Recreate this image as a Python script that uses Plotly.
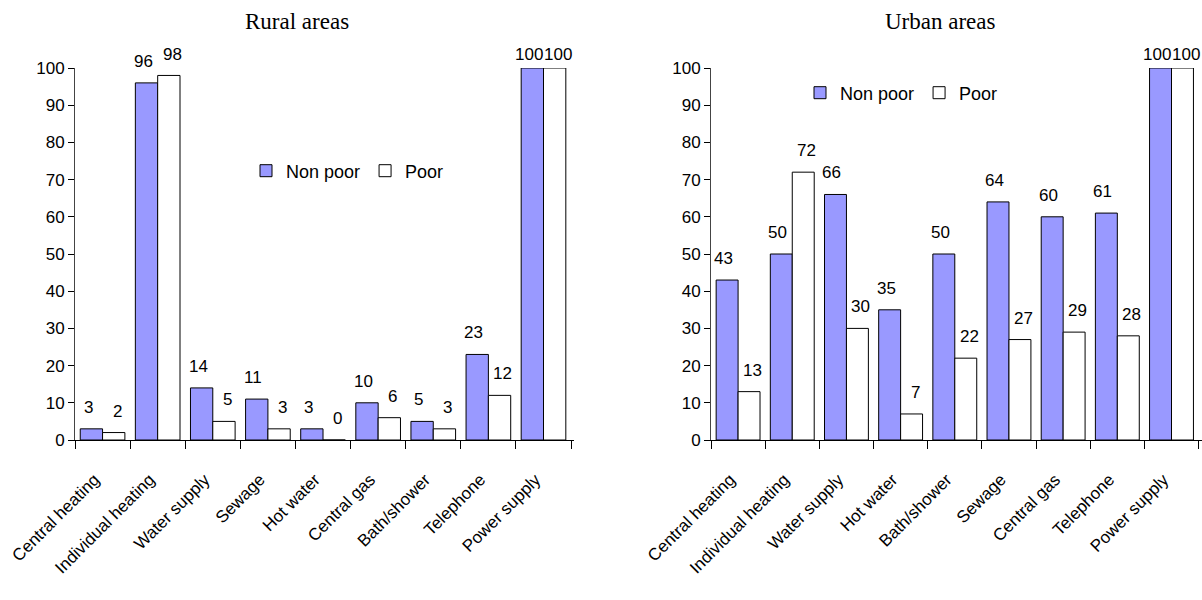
import plotly.graph_objects as go

# Rural areas: share of households with access to each amenity (%)
rural_categories = ["Central heating", "Individual heating", "Water supply", "Sewage",
                    "Hot water", "Central gas", "Bath/shower", "Telephone", "Power supply"]
rural_non_poor = [3, 96, 14, 11, 3, 10, 5, 23, 100]
rural_poor = [2, 98, 5, 3, 0, 6, 3, 12, 100]

# Urban areas
urban_categories = ["Central heating", "Individual heating", "Water supply", "Hot water",
                    "Bath/shower", "Sewage", "Central gas", "Telephone", "Power supply"]
urban_non_poor = [43, 50, 66, 35, 50, 64, 60, 61, 100]
urban_poor = [13, 72, 30, 7, 22, 27, 29, 28, 100]

y_ticks = list(range(0, 101, 10))

W, H = 1202, 600
NONPOOR_COLOR = "#9999FF"
POOR_COLOR = "#FFFFFF"
FONT = "Liberation Sans, Arial, sans-serif"

PLOT_TOP, PLOT_BOTTOM = 68, 440
PX_PER_UNIT = (PLOT_BOTTOM - PLOT_TOP) / 100.0


def px_x(v):
    return v / W


def px_y(v):
    return 1 - v / H


def bar(name, cats, vals, color, xa, ya, legend):
    return go.Bar(
        name=name, x=cats, y=vals, xaxis=xa, yaxis=ya, legend=legend,
        marker=dict(color=color, line=dict(color="#000000", width=1)),
        cliponaxis=False,
    )


def value_labels(cats, vals, xref, yref, xshift):
    # labels sit ~10px above each bar, but never above the top of the plot area
    out = []
    for c, v in zip(cats, vals):
        room = PLOT_BOTTOM - v * PX_PER_UNIT - (PLOT_TOP - 2)
        out.append(dict(
            text=str(v), x=c, y=v, xref=xref, yref=yref,
            xanchor="center", yanchor="bottom", showarrow=False,
            xshift=xshift, yshift=min(10, room),
            font=dict(family=FONT, size=17, color="#000000"),
        ))
    return out


fig = go.Figure()
fig.add_trace(bar("Non poor", rural_categories, rural_non_poor, NONPOOR_COLOR, "x", "y", "legend"))
fig.add_trace(bar("Poor", rural_categories, rural_poor, POOR_COLOR, "x", "y", "legend"))
fig.add_trace(bar("Non poor", urban_categories, urban_non_poor, NONPOOR_COLOR, "x2", "y2", "legend2"))
fig.add_trace(bar("Poor", urban_categories, urban_poor, POOR_COLOR, "x2", "y2", "legend2"))

y_dom = [px_y(PLOT_BOTTOM), px_y(PLOT_TOP)]

xaxis_common = dict(
    type="category", showgrid=False, zeroline=False, automargin=False,
    showline=True, linecolor="#000000", linewidth=1,
    ticks="outside", tickson="boundaries", ticklen=8, tickcolor="#000000",
    tickangle=-45, ticklabelstandoff=22, ticklabelshift=-8,
    tickfont=dict(family=FONT, size=17, color="#000000"),
)
yaxis_common = dict(
    range=[0, 100], tickvals=y_ticks, showgrid=False, zeroline=False, automargin=False,
    showline=True, linecolor="#444444", linewidth=1,
    ticks="outside", ticklen=6, tickcolor="#000000",
    tickfont=dict(family=FONT, size=17, color="#000000"),
    domain=y_dom,
)

legend_common = dict(
    orientation="h", xanchor="left", yanchor="middle",
    font=dict(family=FONT, size=18, color="#000000"),
    bgcolor="rgba(0,0,0,0)", itemwidth=30, tracegroupgap=0,
    itemclick=False,
)

annotations = [
    dict(text="Rural areas", x=px_x(297), y=px_y(22), xref="paper", yref="paper",
         showarrow=False, xanchor="center", yanchor="middle",
         font=dict(family="Liberation Serif, Times New Roman, serif", size=23, color="#000000")),
    dict(text="Urban areas", x=px_x(940), y=px_y(22), xref="paper", yref="paper",
         showarrow=False, xanchor="center", yanchor="middle",
         font=dict(family="Liberation Serif, Times New Roman, serif", size=23, color="#000000")),
]
annotations += value_labels(rural_categories, rural_non_poor, "x", "y", -14.5)
annotations += value_labels(rural_categories, rural_poor, "x", "y", 14.5)
annotations += value_labels(urban_categories, urban_non_poor, "x2", "y2", -14.5)
annotations += value_labels(urban_categories, urban_poor, "x2", "y2", 14.5)

fig.update_layout(
    width=W, height=H,
    margin=dict(l=0, r=0, t=0, b=0, autoexpand=False),
    paper_bgcolor="#FFFFFF", plot_bgcolor="#FFFFFF",
    barmode="group", bargap=0.19, bargroupgap=0,
    showlegend=True,
    xaxis=dict(domain=[px_x(75), px_x(574)], anchor="y", **xaxis_common),
    yaxis=dict(anchor="x", **yaxis_common),
    xaxis2=dict(domain=[px_x(711), 1.0], anchor="y2", **xaxis_common),
    yaxis2=dict(anchor="x2", **yaxis_common),
    legend=dict(x=px_x(246), y=px_y(171), **legend_common),
    legend2=dict(x=px_x(800), y=px_y(93), **legend_common),
    annotations=annotations,
)

fig.write_html("out.html")
